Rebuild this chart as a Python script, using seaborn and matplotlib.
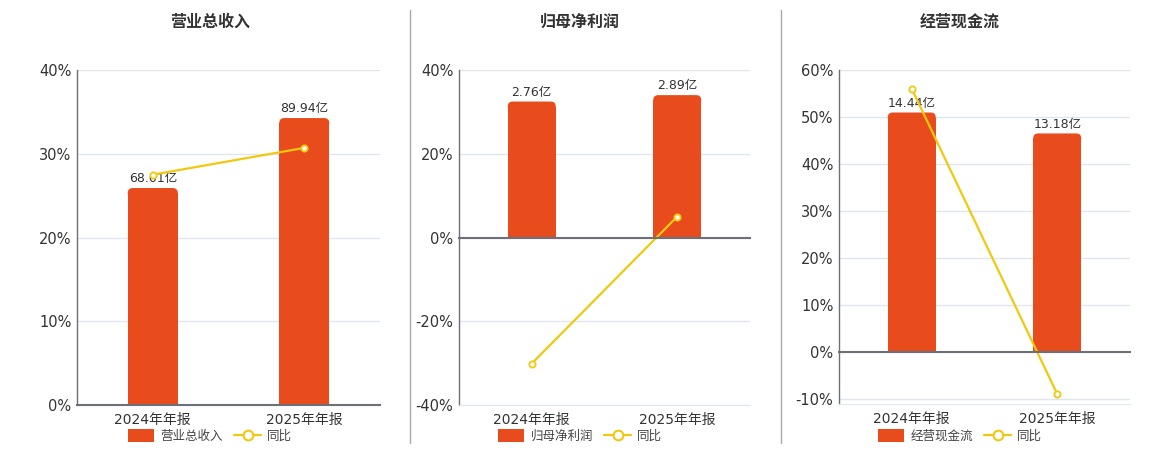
import matplotlib
matplotlib.use('Agg')
import matplotlib.pyplot as plt
import matplotlib.patches as mpatches
from matplotlib.lines import Line2D
import numpy as np
import seaborn as sns

# data
periods = ['2024年年报', '2025年年报']
titles = ['营业总收入', '归母净利润', '经营现金流']
amounts_revenue = [68.01, 89.94]
amounts_profit = [2.76, 2.89]
amounts_cashflow = [14.44, 13.18]
yoy_revenue = [27.5, 30.7]
yoy_profit = [-30.1, 5.0]
yoy_cashflow = [56.0, -8.9]

sns.set_style('white')
plt.rcParams['font.family'] = ['DejaVu Sans', 'Noto Sans CJK SC']

BAR = '#E84C1D'
LINE = '#F2C80F'
GRID = '#E0E6F1'
AXIS = '#6E7079'
TEXT = '#333333'
W, H = 1160, 450

fig = plt.figure(figsize=(11.6, 4.5), dpi=100)

# (left, right, top, bottom) in px, pct limits, pct step, bar-axis max, centre of title/legend
panels = [
    (titles[0], amounts_revenue, yoy_revenue, (77, 380, 70, 405), (0, 40), 10, 105.0, 210),
    (titles[1], amounts_profit, yoy_profit, (459, 750, 70, 405), (-40, 40), 20, 3.4, 580),
    (titles[2], amounts_cashflow, yoy_cashflow, (839, 1130, 70, 404), (-11, 60), 10, 17.0, 960),
]

for title, amounts, yoy, (l, r, t, b), (lo, hi), step, bar_hi, cx in panels:
    ax = fig.add_axes([l / W, 1 - b / H, (r - l) / W, (b - t) / H])
    ax_bar = ax.twinx()
    ax_line = ax.twinx()

    # bars on a hidden axis whose zero lines up with 0%
    sns.barplot(x=periods, y=amounts, ax=ax_bar, color=BAR, width=0.33, saturation=1,
                edgecolor='none', linewidth=0)
    bar_lo = bar_hi * lo / hi
    ax_bar.set_ylim(bar_lo, bar_hi)
    ax_bar.bar_label(ax_bar.containers[0], labels=[f'{v:.2f}亿' for v in amounts],
                     padding=2, fontsize=9, color=TEXT)
    ax_bar.axis('off')

    # yoy line
    sns.lineplot(x=np.arange(len(periods)), y=yoy, ax=ax_line, color=LINE, lw=1.6,
                 marker='o', markersize=4.5, markerfacecolor='white',
                 markeredgecolor=LINE, markeredgewidth=1.3)
    ax_line.set_ylim(lo, hi)
    ax.set_ylim(lo, hi)
    ax.set_xlim(-0.5, len(periods) - 0.5)

    # base axis: grid + percent labels
    first = lo if lo % step == 0 else lo + (-lo) % step
    ax.set_yticks(np.arange(first, hi + 0.1, step))
    ax.set_yticklabels([f'{v:.0f}%' for v in ax.get_yticks()])
    ax.yaxis.grid(True, color=GRID, lw=1)
    ax.xaxis.grid(False)
    ax.tick_params(axis='y', length=0, pad=4, labelsize=10.5, labelcolor=TEXT)
    ax.set_xticks(np.arange(len(periods)))
    ax.set_xticklabels(periods)
    ax.tick_params(axis='x', which='major', length=0, pad=6, labelsize=10, labelcolor=TEXT)
    ax.set_xticks([-0.5, 0.5, 1.5], minor=True)
    ax.tick_params(axis='x', which='minor', length=0)
    for s in ['top', 'right']:
        ax.spines[s].set_visible(False)
    ax.spines['left'].set_color(AXIS)
    ax.spines['left'].set_linewidth(1)
    ax.spines['bottom'].set_color(GRID)
    ax.set_xlabel('')
    ax.set_ylabel('')

    # zero axis line with category-boundary ticks
    for s in ['top', 'right', 'left']:
        ax_line.spines[s].set_visible(False)
    ax_line.spines['bottom'].set_position(('data', 0))
    ax_line.spines['bottom'].set_color(AXIS)
    ax_line.spines['bottom'].set_linewidth(1.5)
    ax_line.tick_params(axis='y', right=False, labelright=False, left=False)
    ax_line.tick_params(axis='x', which='major', bottom=False, labelbottom=False)
    ax_line.tick_params(axis='x', which='minor', bottom=True, length=5, color=AXIS, width=1)
    ax_line.set_xlabel('')
    ax_line.set_ylabel('')

    # rounded top corners for the bars
    px_x = (r - l) / len(periods)
    px_y = (b - t) / (bar_hi - bar_lo)
    rad = 5
    rx = rad / px_x
    ry = rad / px_y
    for p in list(ax_bar.patches):
        x0, y0, w, h = p.get_x(), p.get_y(), p.get_width(), p.get_height()
        if h <= 2 * ry:
            continue
        top = y0 + h
        cap = mpatches.FancyBboxPatch((x0, top - 2 * ry), w, 2 * ry,
                                      boxstyle=f'round,pad=0,rounding_size={rx}',
                                      mutation_aspect=px_x / px_y,
                                      facecolor=BAR, edgecolor='none', lw=0)
        ax_bar.add_patch(cap)
        p.set_height(h - ry)

    fig.text(cx / W, 1 - 22 / H, title, ha='center', va='center',
             fontsize=11.5, fontweight='bold', color=TEXT)

    handles = [
        mpatches.Patch(facecolor=BAR, edgecolor='none', label=title),
        Line2D([], [], color=LINE, lw=1.6, marker='o', markersize=7,
               markerfacecolor='white', markeredgecolor=LINE, markeredgewidth=1.5, label='同比'),
    ]
    fig.legend(handles=handles, loc='center', bbox_to_anchor=(cx / W, 1 - 436 / H),
               ncol=2, frameon=False, fontsize=9, handlelength=2.1, handleheight=1.2,
               handletextpad=0.5, columnspacing=0.9, labelcolor='#444444')

# panel separators
for x in [410, 781]:
    fig.add_artist(Line2D([x / W, x / W], [1 - 10 / H, 1 - 443 / H],
                          transform=fig.transFigure, color='#AAAAAA', lw=1))

fig.savefig('out.png', dpi=100)
